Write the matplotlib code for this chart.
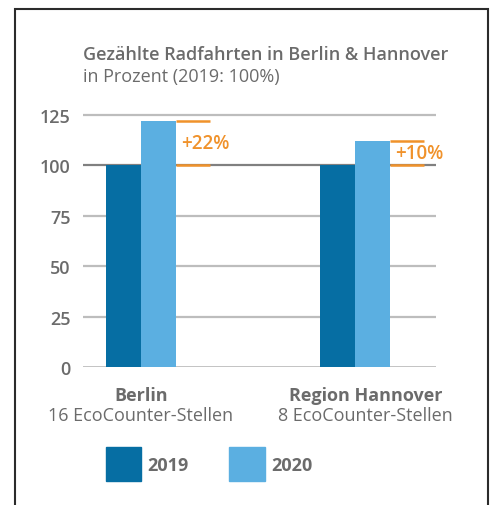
import matplotlib.pyplot as plt
from matplotlib.patches import Patch, Rectangle
import numpy as np

plt.rcParams['font.family'] = ['Open Sans', 'DejaVu Sans']

# data
regions = ["Berlin", "Region Hannover"]
stations = ["16 EcoCounter-Stellen", "8 EcoCounter-Stellen"]
years = ["2019", "2020"]
values_2019 = [100, 100]
values_2020 = [122, 112]
change_labels = ["+22%", "+10%"]
yticks = [0, 25, 50, 75, 100, 125]

c_2019 = "#066ea3"
c_2020 = "#5bafe1"
c_orange = "#f0922b"
c_text = "#6b6b6b"

W, H = 491, 506
fs = 13
fig = plt.figure(figsize=(W / 100, H / 100), dpi=100)

# outer frame (open at the bottom)
fig.patches.append(Rectangle((15 / W, -0.05), 473 / W, 1.05 - 10 / H, transform=fig.transFigure,
                             fill=False, ec="#2b2b2b", lw=1.5, clip_on=False))

ax = fig.add_axes([83 / W, 1 - 368 / H, 353 / W, 262 / H])
ax.set_xlim(-0.271, 1.379)
ax.set_ylim(0, 130)

x = np.arange(len(regions))
bw = 35 / 214
ax.bar(x - bw / 2, values_2019, width=bw, color=c_2019, zorder=3)
ax.bar(x + bw / 2, values_2020, width=bw, color=c_2020, zorder=3)

for t in yticks:
    col = "#808080" if t == 100 else "#bdbdbd"
    ax.axhline(t, color=col, lw=1.6 if t else 2.0, zorder=1)

# brackets with change labels
blen = 34 / 214
for xi, v0, v1, lab in zip(x, values_2019, values_2020, change_labels):
    x0 = xi + bw
    ax.hlines([v0, v1], x0, x0 + blen, color=c_orange, lw=1.8, zorder=4)
    ax.text(x0 + 5 / 214, (v0 + v1) / 2, lab, color=c_orange, fontsize=fs + 0.5,
            fontweight="semibold", ha="left", va="center")

ax.set_yticks(yticks)
ax.set_yticklabels([str(t) for t in yticks], color=c_text, fontsize=fs, fontweight="semibold")
ax.tick_params(axis="y", length=0, pad=9)
ax.set_xticks([])
for s in ax.spines.values():
    s.set_visible(False)

# category labels
label_x = [0, 1.05]
for lx, r, s in zip(label_x, regions, stations):
    ax.text(lx, -16.4, r, ha="center", va="baseline", color=c_text, fontsize=fs, fontweight="bold")
    ax.text(lx, -26.3, s, ha="center", va="baseline", color=c_text, fontsize=fs)

# title
fig.text(83 / W, 1 - 60 / H, "Gezählte Radfahrten in Berlin & Hannover", color=c_text,
         fontsize=fs, fontweight="semibold", va="baseline")
fig.text(83 / W, 1 - 82 / H, "in Prozent (2019: 100%)", color=c_text, fontsize=fs, va="baseline")

# legend
handles = [Patch(color=c_2019), Patch(color=c_2020)]
leg = fig.legend(handles, years, loc="upper left", bbox_to_anchor=(106 / W, 1 - 448 / H),
                 ncol=2, frameon=False, borderpad=0, borderaxespad=0,
                 handlelength=1.95, handleheight=2.55, handletextpad=0.35, columnspacing=2.25,
                 prop={"size": fs, "weight": "bold"})
for t in leg.get_texts():
    t.set_color(c_text)

fig.savefig("out.png", dpi=100)
